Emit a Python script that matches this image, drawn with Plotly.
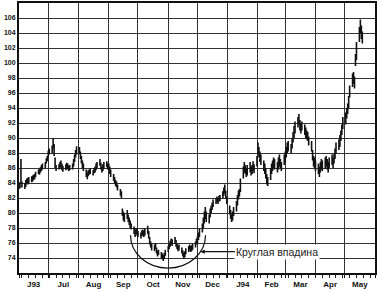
import pandas as pd
import plotly.graph_objects as go

# Daily trading bars, June 1993 - May 1994
START = "1993-06-01"
END = "1994-05-19"

LOW = [
    # Jun 93
    83.2, 83.3, 83.9, 83.4, 83.2, 83.5, 83.9, 83.8, 84.0, 84.1, 84.2, 84.4, 84.5, 84.8, 85.2, 85.1, 85.4, 85.6, 85.8, 86.0, 86.6, 86.9,
    # Jul
    87.5, 87.8, 88.0, 88.6, 87.6, 86.0, 85.6, 85.8, 85.9, 86.1, 85.7, 85.5, 85.7, 85.9, 85.8, 85.6, 85.7, 85.8, 86.2, 86.8, 87.4, 87.8,
    # Aug
    87.8, 87.2, 86.6, 86.0, 85.6, 84.8, 84.5, 84.9, 85.1, 85.2, 85.0, 85.3, 85.4, 85.7, 86.0, 86.3, 85.8, 85.4, 85.6, 85.9, 86.1, 85.8,
    # Sep
    85.8, 85.2, 84.8, 84.3, 84.0, 83.6, 83.4, 83.0, 82.3, 82.0, 79.6, 79.0, 78.8, 79.2, 78.8, 78.4, 78.0, 77.8, 77.2, 76.8, 77.0, 77.2,
    # Oct
    76.8, 76.6, 76.9, 77.0, 76.8, 77.0, 77.2, 76.6, 75.8, 75.4, 75.0, 74.9, 75.2, 74.6, 74.2, 74.4, 74.0, 73.8, 73.6, 73.9, 74.3,
    # Nov
    74.8, 75.2, 75.5, 75.8, 75.6, 75.9, 75.5, 75.2, 74.9, 75.0, 74.6, 74.2, 73.9, 74.1, 74.5, 74.8, 75.0, 74.8, 74.9, 75.1, 75.4, 75.8,
    # Dec
    76.0, 76.4, 76.8, 77.4, 78.0, 78.6, 79.2, 78.8, 78.6, 79.4, 80.0, 80.4, 80.8, 81.2, 81.4, 81.2, 81.5, 81.6, 82.0, 82.3, 82.6, 82.0, 81.2,
    # Jan 94
    79.8, 79.2, 78.8, 79.0, 79.6, 80.2, 81.0, 81.8, 82.2, 82.8, 84.6, 85.4, 85.2, 84.8, 85.0, 85.4, 85.0, 85.2, 85.6, 85.3, 86.2,
    # Feb
    87.8, 87.4, 86.8, 86.4, 85.6, 85.2, 84.6, 83.8, 83.6, 84.4, 85.2, 85.6, 86.0, 85.8, 85.4, 85.8, 86.2, 86.0, 85.6, 86.4,
    # Mar
    86.8, 87.4, 88.0, 88.2, 88.0, 88.6, 89.4, 90.0, 90.6, 91.4, 91.8, 91.0, 90.6, 91.0, 90.4, 90.0, 89.8, 89.6, 89.0, 88.2, 87.0, 86.2, 86.0,
    # Apr
    85.6, 85.2, 84.8, 85.4, 85.8, 85.6, 85.9, 86.2, 85.8, 85.4, 86.0, 86.4, 86.0, 86.6, 87.2, 88.0, 88.4, 88.8, 89.6, 90.4, 91.2,
    # May
    91.8, 92.6, 93.2, 94.0, 95.4, 96.8, 97.2, 96.6, 99.6, 100.4, 102.8, 104.0, 103.2, 102.6,
]

HIGH = [
    # Jun 93
    84.0, 84.1, 87.2, 84.2, 84.0, 84.4, 84.6, 84.7, 84.8, 84.9, 85.0, 85.1, 85.2, 85.5, 85.8, 85.9, 86.1, 86.4, 86.6, 86.8, 87.3, 87.6,
    # Jul
    88.3, 88.6, 89.0, 90.0, 89.2, 87.4, 86.4, 86.5, 86.8, 87.0, 86.6, 86.3, 86.5, 86.7, 86.6, 86.3, 86.4, 86.6, 87.2, 87.8, 88.4, 88.9,
    # Aug
    88.8, 88.2, 87.6, 87.0, 86.6, 85.8, 85.4, 85.7, 85.8, 85.9, 85.7, 86.0, 86.2, 86.6, 86.8, 87.2, 86.7, 86.2, 86.5, 86.8, 86.9, 86.6,
    # Sep
    86.6, 86.2, 85.8, 85.2, 84.8, 84.4, 84.2, 83.8, 83.2, 82.9, 80.6, 80.2, 80.0, 80.4, 79.8, 79.4, 79.0, 78.6, 78.2, 77.8, 78.0, 78.0,
    # Oct
    77.6, 77.4, 77.7, 77.8, 77.6, 77.9, 78.3, 77.6, 76.8, 76.2, 75.9, 75.8, 76.0, 75.4, 75.0, 75.1, 74.8, 74.6, 74.4, 74.7, 75.1,
    # Nov
    75.6, 76.0, 76.3, 76.6, 76.5, 76.8, 76.4, 76.0, 75.7, 75.8, 75.4, 75.0, 74.7, 74.9, 75.3, 75.6, 75.8, 75.6, 75.7, 75.9, 76.2, 76.6,
    # Dec
    76.9, 77.4, 77.9, 78.6, 79.4, 80.2, 80.8, 80.2, 79.8, 80.6, 81.0, 81.4, 81.8, 82.0, 82.2, 82.0, 82.3, 82.4, 82.9, 83.4, 83.8, 83.0, 82.2,
    # Jan 94
    81.0, 80.4, 79.8, 80.2, 80.8, 81.6, 82.4, 83.0, 83.2, 84.6, 86.2, 86.8, 86.4, 86.0, 86.4, 86.8, 86.2, 86.4, 86.9, 86.5, 87.6,
    # Feb
    89.4, 88.8, 88.2, 87.8, 87.0, 86.6, 86.0, 85.2, 84.8, 86.0, 86.6, 87.0, 87.4, 87.2, 86.8, 87.4, 87.8, 87.2, 86.8, 87.8,
    # Mar
    88.2, 88.8, 89.4, 89.6, 89.2, 90.0, 90.8, 91.6, 92.2, 92.8, 93.2, 92.4, 92.0, 92.2, 91.8, 91.4, 91.0, 90.8, 90.2, 89.6, 88.4, 87.6, 87.4,
    # Apr
    87.0, 86.6, 86.2, 86.8, 87.2, 87.0, 87.4, 87.6, 87.2, 86.8, 87.4, 87.8, 87.4, 87.9, 88.6, 89.4, 89.8, 90.4, 91.0, 91.8, 92.8,
    # May
    93.4, 94.0, 94.6, 95.6, 97.0, 98.6, 98.8, 98.2, 101.2, 102.8, 104.8, 105.8, 105.0, 104.2,
]

Y_TICKS = list(range(74, 108, 2))
MONTH_ALIAS = {"Jun": "J93", "Jan": "J94"}
ANNOTATION_TEXT = "Круглая впадина"

dates = pd.bdate_range(START, END)
n = min(len(dates), len(LOW), len(HIGH))
dates = dates[:n]

# vertical high-low bars built as line segments
xs, ys = [], []
for d, lo, hi in zip(dates, LOW[:n], HIGH[:n]):
    xs += [d, d, None]
    ys += [lo, hi, None]

fig = go.Figure()
fig.add_trace(go.Scatter(x=xs, y=ys, mode="lines",
                         line=dict(color="#111111", width=1.6),
                         hoverinfo="skip", showlegend=False))

grid_col = "#333333"
fig.update_layout(
    width=378, height=292,
    margin=dict(l=19, r=3, t=1, b=19),
    paper_bgcolor="white", plot_bgcolor="white",
    showlegend=False,
    font=dict(family="Liberation Sans, Arial, sans-serif", color="#111111"),
    xaxis=dict(
        type="date",
        range=["1993-06-01", "1994-06-01"],
        tick0="1993-06-01", dtick="M1",
        tickformat="%b",
        ticklabelmode="period",
        labelalias=MONTH_ALIAS,
        showgrid=True, gridcolor=grid_col, gridwidth=1.4,
        ticks="outside", ticklen=3, tickcolor="#111",
        tickfont=dict(size=8, weight="bold", color="#111"),
        showline=True, linecolor="#111", linewidth=1.6, mirror=True,
        minor=dict(ticks="outside", ticklen=3, tickcolor="#222",
                   dtick=7 * 86400000, tick0="1993-06-04", showgrid=False),
        zeroline=False,
    ),
    yaxis=dict(
        range=[72, 108],
        tickmode="array", tickvals=Y_TICKS,
        showgrid=True, gridcolor=grid_col, gridwidth=1.4,
        ticks="", tickfont=dict(size=7, weight="bold", color="#111"),
        showline=True, linecolor="#111", linewidth=2, mirror=True,
        zeroline=False,
    ),
)

# rounding-bottom arc (paper coordinates)
fig.add_shape(
    type="path", xref="paper", yref="paper",
    path=("M 0.3132 0.1397 C 0.3132 0.0728 0.3604 0.0184 0.4185 0.0184 "
          "C 0.4767 0.0184 0.5239 0.0728 0.5239 0.1397"),
    line=dict(color="#111", width=1.2),
)

fig.add_annotation(
    x="1993-12-04", y=74.85, xref="x", yref="y",
    text=ANNOTATION_TEXT, showarrow=True,
    ax=77, ay=0, arrowhead=2, arrowsize=0.8, arrowwidth=1.1, arrowcolor="#111",
    font=dict(size=10.5, color="#222"),
    bgcolor="white",
)

fig.write_html("out.html")
